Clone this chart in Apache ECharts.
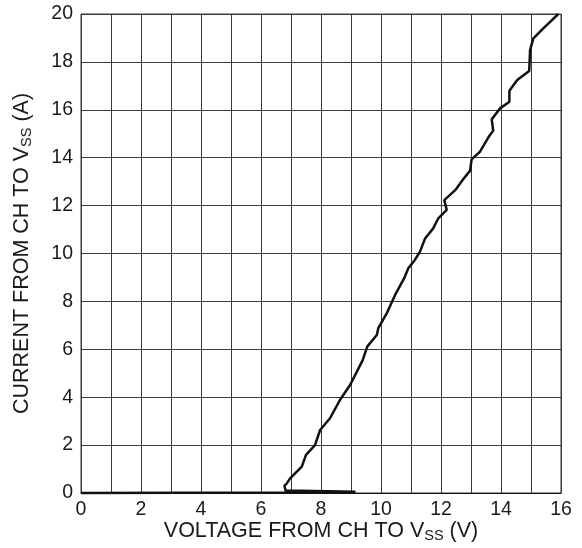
<!DOCTYPE html>
<html>
<head>
<meta charset="utf-8">
<script src="https://cdn.jsdelivr.net/npm/echarts@6/dist/echarts.min.js"></script>
<style>
  html, body { margin: 0; padding: 0; background: #fff; }
  #chart { width: 582px; height: 548px; }
</style>
</head>
<body>
<div id="chart"></div>
<script>
// curve: voltage (V) and current (A), in trace order
const voltage = [0, 6.8, 9.15, 6.82, 6.78, 6.86, 6.97, 7.36, 7.5, 7.8, 7.97, 8.3, 8.63, 8.97, 9.39, 9.54, 9.86, 9.91,
  10.19, 10.47, 10.77, 10.91, 11.13, 11.3, 11.47, 11.74, 11.91, 12.19, 12.11, 12.5, 12.72, 12.97, 13.02,
  13.3, 13.58, 13.74, 13.69, 13.97, 14.28, 14.28, 14.54, 14.94, 14.97, 15.08, 15.41, 15.91];
const current = [0, 0.02, 0.05, 0.1, 0.3, 0.4, 0.61, 1.1, 1.59, 2.0, 2.63, 3.12, 3.88, 4.51, 5.55, 6.11, 6.6, 6.88,
  7.5, 8.27, 8.96, 9.38, 9.73, 10.08, 10.63, 11.05, 11.47, 11.82, 12.23, 12.68, 13.07, 13.46, 13.93,
  14.25, 14.85, 15.13, 15.6, 16.06, 16.34, 16.8, 17.24, 17.62, 18.5, 18.98, 19.4, 20];
const xTicks = [0, 2, 4, 6, 8, 10, 12, 14, 16];
const yTicks = [0, 2, 4, 6, 8, 10, 12, 14, 16, 18, 20];

const points = voltage.map((v, i) => [v, current[i]]);

const textColor = "#1a1a1a";
const gridColor = "#3a3a3a";
const font = "Liberation Sans";

// axis titles with a subscript "SS"
const nameRich = {
  n: { fontSize: 21.5, color: textColor, fontFamily: font, lineHeight: 24 },
  s: { fontSize: 14.5, color: textColor, fontFamily: font, padding: [10, 0, 0, 0], lineHeight: 24 }
};

const chart = echarts.init(document.getElementById("chart"));
chart.setOption({
  animation: false,
  grid: {
    left: 81,
    right: 21,
    top: 14,
    bottom: 55,
    outerBoundsMode: "none",
    containLabel: false,
    show: true,
    borderColor: gridColor,
    borderWidth: 1
  },
  xAxis: {
    type: "value",
    min: 0,
    max: 16,
    interval: 1,
    name: "{n|VOLTAGE FROM CH TO V}{s|SS}{n| (V)}",
    nameLocation: "middle",
    nameGap: 26,
    nameMoveOverlap: false,
    nameTextStyle: { rich: nameRich },
    axisLine: { lineStyle: { color: "#111", width: 1 } },
    axisTick: { show: false },
    axisLabel: {
      color: textColor,
      fontSize: 19.5,
      fontFamily: font,
      margin: 7,
      formatter: v => (xTicks.includes(v) ? String(v) : "")
    },
    splitLine: { show: true, lineStyle: { color: gridColor, width: 1 } }
  },
  yAxis: {
    type: "value",
    min: 0,
    max: 20,
    interval: 2,
    name: "{n|CURRENT FROM CH TO V}{s|SS}{n| (A)}",
    nameLocation: "middle",
    nameGap: 47,
    nameMoveOverlap: false,
    nameRotate: 90,
    nameTextStyle: { rich: nameRich },
    axisLine: { show: true, lineStyle: { color: gridColor, width: 1 } },
    axisTick: { show: false },
    axisLabel: {
      color: textColor,
      fontSize: 19.5,
      fontFamily: font,
      margin: 8,
      formatter: v => (yTicks.includes(v) ? String(v) : "")
    },
    splitLine: { show: true, lineStyle: { color: gridColor, width: 1 } }
  },
  series: [
    {
      type: "line",
      data: points,
      showSymbol: false,
      symbol: "none",
      clip: false,
      lineStyle: { color: "#111", width: 2.5 },
      z: 5
    }
  ]
});
</script>
</body>
</html>
